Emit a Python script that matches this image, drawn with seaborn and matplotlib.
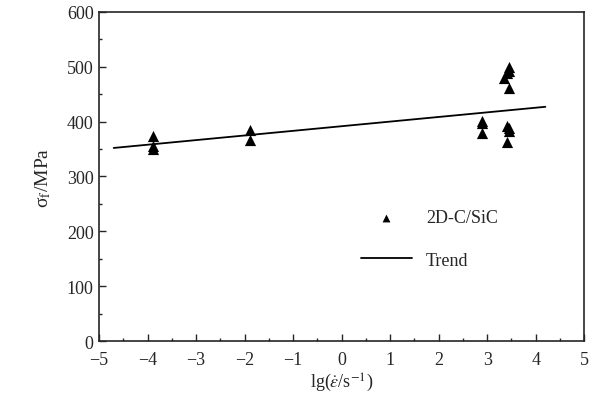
import matplotlib
matplotlib.use("Agg")
import matplotlib.pyplot as plt
import seaborn as sns
from matplotlib.ticker import MultipleLocator

# data
strain_rate = [-3.9, -3.9, -3.9, -1.9, -1.9, 2.9, 2.9, 2.9,
               3.35, 3.4, 3.45, 3.45, 3.45, 3.4, 3.45, 3.45, 3.4]
strength = [373, 355, 350, 385, 367, 402, 397, 380,
            480, 488, 500, 493, 462, 392, 388, 383, 363]
trend_x = [-4.7, 4.2]
trend_y = [352, 427]

sns.set_style("ticks")
plt.rcParams["font.family"] = ["Liberation Serif", "DejaVu Serif"]
plt.rcParams["mathtext.fontset"] = "stix"

fig = plt.figure(figsize=(6.01, 4.02), dpi=100)
ax = fig.add_axes([0.165, 0.149, 0.807, 0.819])

sns.scatterplot(x=strain_rate, y=strength, marker="^", color="black",
                s=65, edgecolor="black", linewidth=0, label="2D-C/SiC", ax=ax)
sns.lineplot(x=trend_x, y=trend_y, color="black", linewidth=1.3,
             label="Trend", ax=ax)

ax.set_xlim(-5, 5)
ax.set_ylim(0, 600)
ax.xaxis.set_major_locator(MultipleLocator(1))
ax.xaxis.set_minor_locator(MultipleLocator(0.5))
ax.yaxis.set_major_locator(MultipleLocator(100))
ax.yaxis.set_minor_locator(MultipleLocator(50))
ax.tick_params(which="both", direction="in", labelsize=13, width=1)
ax.tick_params(which="major", length=5)
ax.tick_params(axis="x", pad=7)
ax.tick_params(axis="y", pad=4)
ax.tick_params(which="minor", length=2.5)
for sp in ax.spines.values():
    sp.set_linewidth(1.2)

ax.set_xlabel(r"lg($\dot{\varepsilon}$/s$^{-1}$)", fontsize=13, labelpad=2)
ax.set_ylabel(r"σ$_{\rm f}$/MPa", fontsize=14, labelpad=10)

ax.legend(frameon=False, loc="upper left", bbox_to_anchor=(0.54, 0.40),
          borderaxespad=0, borderpad=0, handlelength=2.8, labelspacing=1.4,
          fontsize=13, markerscale=0.7)

fig.savefig("out.png", dpi=100)
